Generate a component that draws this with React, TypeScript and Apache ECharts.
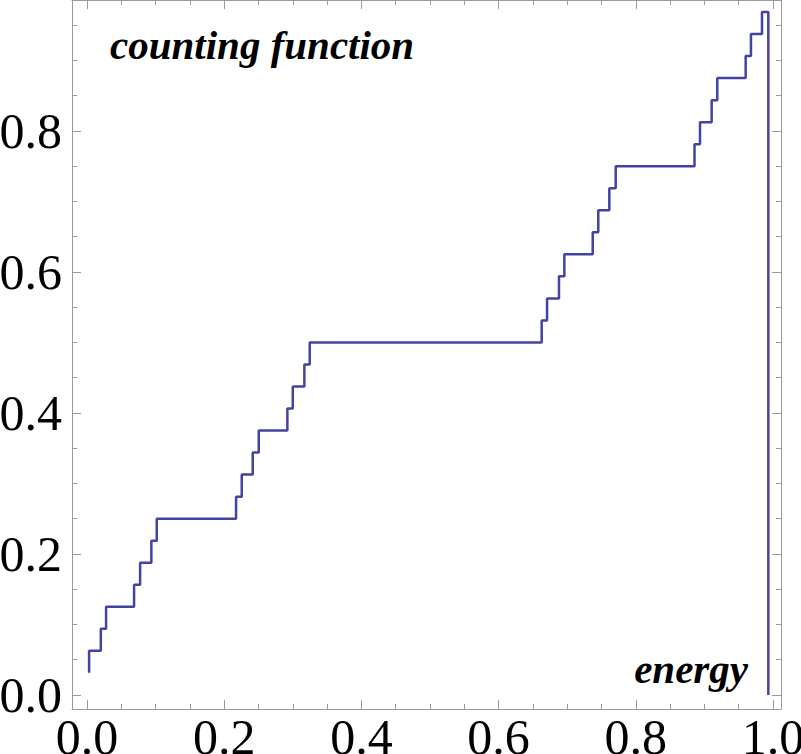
import React, { useEffect, useRef } from "react";
import * as echarts from "echarts";

// total number of states (levels are count / N)
const N = 32;
// x position (energy) where the counting function jumps
const jumpX = [
  0.0029, 0.02, 0.0277, 0.0685, 0.0773, 0.0937, 0.1016, 0.2172, 0.2255, 0.2415,
  0.2503, 0.292, 0.2999, 0.3168, 0.3246, 0.6628, 0.6706, 0.688, 0.6958, 0.7372,
  0.7453, 0.7614, 0.7707, 0.8856, 0.8936, 0.9106, 0.9188, 0.9602, 0.9679, 0.984,
  0.9932,
];
// count before each jump and after it
const countBefore = [
  1, 2, 3, 4, 5, 6, 7, 8, 9, 10, 11, 12, 13, 14, 15, 16, 17, 18, 19, 20, 21, 22,
  23, 24, 25, 26, 27, 28, 29, 30, 31,
];
const countAfter = [
  2, 3, 4, 5, 6, 7, 8, 9, 10, 11, 12, 13, 14, 15, 16, 17, 18, 19, 20, 21, 22, 23,
  24, 25, 26, 27, 28, 29, 30, 31, 0,
];

const xMajorTicks = [0, 0.2, 0.4, 0.6, 0.8, 1.0];
const xMinorTicks = [
  0, 0.05, 0.1, 0.15, 0.2, 0.25, 0.3, 0.35, 0.4, 0.45, 0.5, 0.55, 0.6, 0.65, 0.7,
  0.75, 0.8, 0.85, 0.9, 0.95, 1.0,
];
const yMajorTicks = [0, 0.2, 0.4, 0.6, 0.8];
const yMinorTicks = [
  0, 0.05, 0.1, 0.15, 0.2, 0.25, 0.3, 0.35, 0.4, 0.45, 0.5, 0.55, 0.6, 0.65, 0.7,
  0.75, 0.8, 0.85, 0.9, 0.95,
];

const X_MIN = -0.022;
const X_MAX = 1.0117;
const Y_MIN = -0.02;
const Y_MAX = 0.9858;

const FRAME = "#9a9a9a";
const SERIF = "'Liberation Serif', 'Times New Roman', serif";

function buildPoints() {
  const pts: [number, number][] = [];
  for (let i = 0; i < jumpX.length; i++) {
    pts.push([jumpX[i], countBefore[i] / N]);
    pts.push([jumpX[i], countAfter[i] / N]);
  }
  return pts;
}

function axis(
  kind: "x" | "y",
  position: string,
  ticks: number[],
  len: number,
  labels: boolean,
  showLine: boolean
) {
  const isX = kind === "x";
  return {
    type: "value",
    position,
    min: isX ? X_MIN : Y_MIN,
    max: isX ? X_MAX : Y_MAX,
    axisLine: { show: showLine, onZero: false, lineStyle: { color: FRAME, width: 1 } },
    axisTick: {
      show: true,
      inside: true,
      length: len,
      customValues: ticks,
      lineStyle: { color: FRAME, width: 1 },
    },
    axisLabel: labels
      ? {
          show: true,
          customValues: ticks,
          formatter: (v: number) => v.toFixed(1),
          fontSize: 50,
          fontFamily: SERIF,
          color: "#000",
          margin: isX ? 3 : 10,
          showMinLabel: true,
          showMaxLabel: true,
          hideOverlap: false,
        }
      : { show: false },
    splitLine: { show: false },
    minorTick: { show: false },
  };
}

export default function App() {
  const ref = useRef<HTMLDivElement>(null);
  useEffect(() => {
    document.body.style.margin = "0";
    if (!ref.current) return;
    const chart = echarts.init(ref.current, null, { renderer: "svg" });
    chart.setOption({
      animation: false,
      backgroundColor: "#fff",
      grid: {
        left: 72,
        right: 20,
        top: 0,
        bottom: 45,
        containLabel: false,
        outerBoundsMode: "none",
      },
      xAxis: [
        axis("x", "bottom", xMajorTicks, 9, true, true),
        axis("x", "bottom", xMinorTicks, 5, false, false),
        axis("x", "top", xMajorTicks, 9, false, true),
        axis("x", "top", xMinorTicks, 5, false, false),
      ],
      yAxis: [
        axis("y", "left", yMajorTicks, 9, true, true),
        axis("y", "left", yMinorTicks, 5, false, false),
        axis("y", "right", yMajorTicks, 9, false, true),
        axis("y", "right", yMinorTicks, 5, false, false),
      ],
      graphic: [
        {
          type: "text",
          left: 110,
          top: 24,
          style: {
            text: "counting function",
            font: `italic bold 41px ${SERIF}`,
            fill: "#000",
          },
        },
        {
          type: "text",
          right: 53,
          top: 648,
          style: {
            text: "energy",
            font: `italic bold 41px ${SERIF}`,
            fill: "#000",
          },
        },
      ],
      series: [
        {
          type: "line",
          xAxisIndex: 0,
          yAxisIndex: 0,
          data: buildPoints(),
          showSymbol: false,
          symbol: "none",
          lineStyle: { color: "#4343a3", width: 2.5 },
          clip: true,
        },
      ],
    });
    return () => chart.dispose();
  }, []);
  return <div ref={ref} style={{ width: 801, height: 754 }} />;
}
